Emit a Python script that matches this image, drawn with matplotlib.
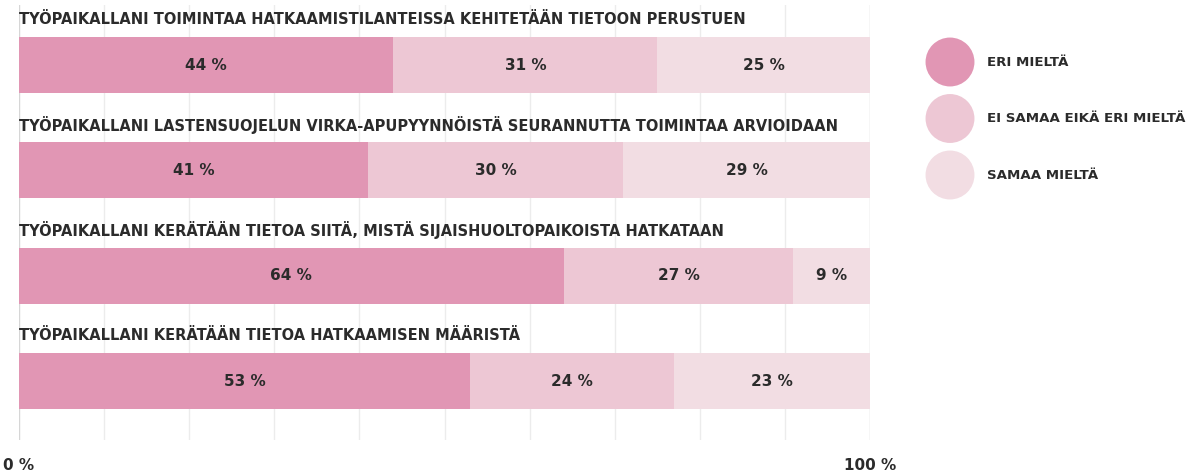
import matplotlib.pyplot as plt
import numpy as np

statements = [
    "TYÖPAIKALLANI TOIMINTAA HATKAAMISTILANTEISSA KEHITETÄÄN TIETOON PERUSTUEN",
    "TYÖPAIKALLANI LASTENSUOJELUN VIRKA-APUPYYNNÖISTÄ SEURANNUTTA TOIMINTAA ARVIOIDAAN",
    "TYÖPAIKALLANI KERÄTÄÄN TIETOA SIITÄ, MISTÄ SIJAISHUOLTOPAIKOISTA HATKATAAN",
    "TYÖPAIKALLANI KERÄTÄÄN TIETOA HATKAAMISEN MÄÄRISTÄ",
]
answers = ["ERI MIELTÄ", "EI SAMAA EIKÄ ERI MIELTÄ", "SAMAA MIELTÄ"]
eri_mielta = [44, 41, 64, 53]
ei_samaa_eika_eri = [31, 30, 27, 24]
samaa_mielta = [25, 29, 9, 23]
x_ticks = [0, 100]
x_tick_labels = ["0 %", "100 %"]

colors = ["#e196b4", "#edc7d4", "#f2dde3"]
text_color = "#2b2b2b"
font = ["DejaVu Sans"]

W, H = 1197, 473
fig = plt.figure(figsize=(W / 100, H / 100), dpi=100)
ax = fig.add_axes([19 / W, 1 - 440 / H, 851 / W, 435 / H])

series = [eri_mielta, ei_samaa_eika_eri, samaa_mielta]
y = np.arange(len(statements))
left = np.zeros(len(statements))
for vals, col in zip(series, colors):
    vals = np.array(vals)
    ax.barh(y, vals, left=left, height=0.53, color=col, zorder=2)
    for yi, l, v in zip(y, left, vals):
        ax.text(l + v / 2, yi, f"{v} %", ha="center", va="center",
                fontsize=11, fontweight="bold", color=text_color,
                family=font, zorder=3)
    left += vals

for yi, s in zip(y, statements):
    ax.text(0, yi - 0.43, s, ha="left", va="center", fontsize=10.5,
            fontweight="bold", color=text_color, family=font)

ax.set_xlim(0, 100)
ax.set_ylim(3.56, -0.57)
for gx in range(0, 101, 10):
    edge = gx in (0, 100)
    ax.axvline(gx, color="#d6d6d6" if edge else "#ececec", lw=1, zorder=1)

ax.set_xticks(x_ticks)
ax.set_xticklabels(x_tick_labels, fontsize=11, fontweight="bold",
                   color=text_color, family=font)
ax.tick_params(axis="x", length=0, pad=13)
ax.set_yticks([])
for sp in ax.spines.values():
    sp.set_visible(False)

# legend drawn as circles in its own axes
lax = fig.add_axes([0, 0, 1, 1], facecolor="none")
lax.set_xlim(0, W)
lax.set_ylim(H, 0)
lax.axis("off")
for i, (lab, col) in enumerate(zip(answers, colors)):
    cy = 62 + i * 56.5
    lax.scatter(950, cy, s=1240, color=col, edgecolor="none")
    lax.text(987, cy, lab, ha="left", va="center", fontsize=9.6,
             fontweight="bold", color=text_color, family=font)

fig.savefig("out.png", dpi=100)
